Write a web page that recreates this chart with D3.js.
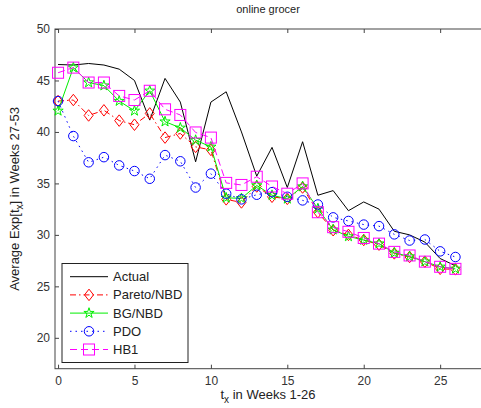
<!DOCTYPE html>
<html>
<head>
<meta charset="utf-8">
<script src="https://cdn.jsdelivr.net/npm/d3@7"></script>
<style>
  body{margin:0;background:#fff;}
  text{font-family:"Liberation Sans",Arial,sans-serif;fill:#222;}
</style>
</head>
<body>
<svg id="chart" width="481" height="408"></svg>
<script>
// weeks 0..26
let weeks = d3.range(0, 27)
let actual = [46.55,46.5,46.65,46.5,46.1,45.0,41.15,45.2,42.9,37.1,42.9,43.9,40.0,35.7,38.5,34.6,39.05,33.85,34.3,32.35,33.2,32.5,30.35,30.0,29.3,27.7,27.0]
let paretoNBD = [43.0,43.1,41.6,42.1,41.1,40.7,41.8,39.45,39.85,38.55,38.25,33.45,33.15,34.7,33.7,33.5,34.6,32.2,30.45,30.0,29.5,29.05,28.2,27.85,27.4,26.7,26.65]
let bgNBD = [42.05,46.25,44.8,44.5,43.0,42.05,44.0,41.0,40.4,39.2,38.55,33.6,33.55,34.8,33.85,33.5,34.7,32.55,30.5,29.85,29.5,29.15,28.25,27.9,27.4,26.9,26.7]
let pdo = [43.0,39.6,37.05,37.55,36.75,36.2,35.45,37.75,37.15,34.6,35.95,34.0,33.45,33.9,34.15,33.7,33.35,32.95,31.7,31.35,31.0,30.85,30.05,29.45,29.55,28.4,27.85]
let hb1 = [45.75,46.25,44.8,44.8,43.5,43.1,44.0,42.2,41.65,39.95,39.45,35.05,34.85,35.65,34.7,34.0,35.0,32.2,30.75,30.3,29.7,29.15,28.35,28.0,27.4,26.9,26.7]

let xTicks = [0,5,10,15,20,25]
let yTicks = [20,25,30,35,40,45,50]

let series = [
  {name:"Actual", values:actual, color:"#000", dash:null, marker:null},
  {name:"Pareto/NBD", values:paretoNBD, color:"#ff0000", dash:"6,3,1.5,3", marker:"diamond"},
  {name:"BG/NBD", values:bgNBD, color:"#00ee00", dash:null, marker:"star"},
  {name:"PDO", values:pdo, color:"#0000ff", dash:"1.5,4", marker:"circle"},
  {name:"HB1", values:hb1, color:"#ff00ff", dash:"7,4", marker:"square"}
]

let svg = d3.select("#chart")
let mLeft = 55, mTop = 29, mBottom = 368.7, mRight = 486

let x = d3.scaleLinear().domain([-0.2, 28]).range([mLeft, mRight])
let y = d3.scaleLinear().domain([17, 50]).range([mBottom, mTop])

// axes box
svg.append("rect").attr("x",mLeft).attr("y",mTop)
   .attr("width",mRight-mLeft).attr("height",mBottom-mTop)
   .attr("fill","none").attr("stroke","#444").attr("stroke-width",1)

// ticks pointing inward (bottom/left) and mirrored (top)
let xAxis = svg.append("g").attr("transform",`translate(0,${mBottom})`)
   .call(d3.axisBottom(x).tickValues(xTicks).tickSize(-4).tickPadding(8))
let xTop = svg.append("g").attr("transform",`translate(0,${mTop})`)
   .call(d3.axisTop(x).tickValues(xTicks).tickSize(-4).tickFormat(""))
let yAxis = svg.append("g").attr("transform",`translate(${mLeft},0)`)
   .call(d3.axisLeft(y).tickValues(yTicks).tickSize(-4).tickPadding(5))

;[xAxis,xTop,yAxis].forEach(g=>{
  g.select(".domain").remove()
  g.selectAll("line").attr("stroke","#444")
  g.selectAll("text").style("font-size","12px").style("fill","#333")
})

// lines
let line = d3.line().x((d,i)=>x(weeks[i])).y(d=>y(d))

function drawMarker(g, type, color, size){
  if(type=="circle"){
    g.append("circle").attr("r",size*0.95).attr("fill","none").attr("stroke",color)
  }else if(type=="square"){
    g.append("rect").attr("x",-size).attr("y",-size).attr("width",size*2).attr("height",size*2)
      .attr("fill","none").attr("stroke",color)
  }else if(type=="diamond"){
    g.append("path").attr("d",`M0,${-size*1.15}L${size*0.9},0L0,${size*1.15}L${-size*0.9},0Z`)
      .attr("fill","none").attr("stroke",color)
  }else if(type=="star"){
    g.append("path").attr("d",d3.symbol().type(d3.symbolStar).size(size*size*1.3)())
      .attr("fill","none").attr("stroke",color)
  }
}

let sizes = {circle:5, square:5.5, diamond:5, star:5}

series.forEach(s=>{
  svg.append("path").datum(s.values)
     .attr("d",line)
     .attr("fill","none")
     .attr("stroke",s.color)
     .attr("stroke-width",1)
     .attr("stroke-dasharray",s.dash)
  if(s.marker){
    svg.selectAll(null).data(s.values).enter().append("g")
       .attr("transform",(d,i)=>`translate(${x(weeks[i])},${y(d)})`)
       .each(function(){ drawMarker(d3.select(this), s.marker, s.color, sizes[s.marker]) })
  }
})

// legend
let legend = svg.append("g")
legend.append("rect").attr("x",62).attr("y",263.5).attr("width",126).attr("height",99)
      .attr("fill","#fff").attr("stroke","#222")
series.forEach((s,i)=>{
  let ly = 276.7 + i*18.2
  legend.append("line").attr("x1",70).attr("x2",108).attr("y1",ly).attr("y2",ly)
        .attr("stroke",s.color).attr("stroke-dasharray",s.dash)
  if(s.marker){
    let mg = legend.append("g").attr("transform",`translate(89,${ly})`)
    drawMarker(mg, s.marker, s.color, sizes[s.marker])
  }
  legend.append("text").attr("x",113).attr("y",ly+4.5).style("font-size","13px").text(s.name)
})

// title and labels
svg.append("text").attr("x",268).attr("y",13).attr("text-anchor","middle")
   .style("font-size","11px").text("online grocer")

let xl = svg.append("text").attr("x",268).attr("y",399).attr("text-anchor","middle").style("font-size","13px")
xl.append("tspan").text("t")
xl.append("tspan").attr("dy",4).style("font-size","10px").text("x")
xl.append("tspan").attr("dy",-4).text(" in Weeks 1-26")

let yl = svg.append("text").attr("transform","translate(19,199) rotate(-90)")
   .attr("text-anchor","middle").style("font-size","13px")
yl.append("tspan").text("Average Exp[t")
yl.append("tspan").attr("dy",4).style("font-size","10px").text("x")
yl.append("tspan").attr("dy",-4).text("] in Weeks 27-53")
</script>
</body>
</html>
